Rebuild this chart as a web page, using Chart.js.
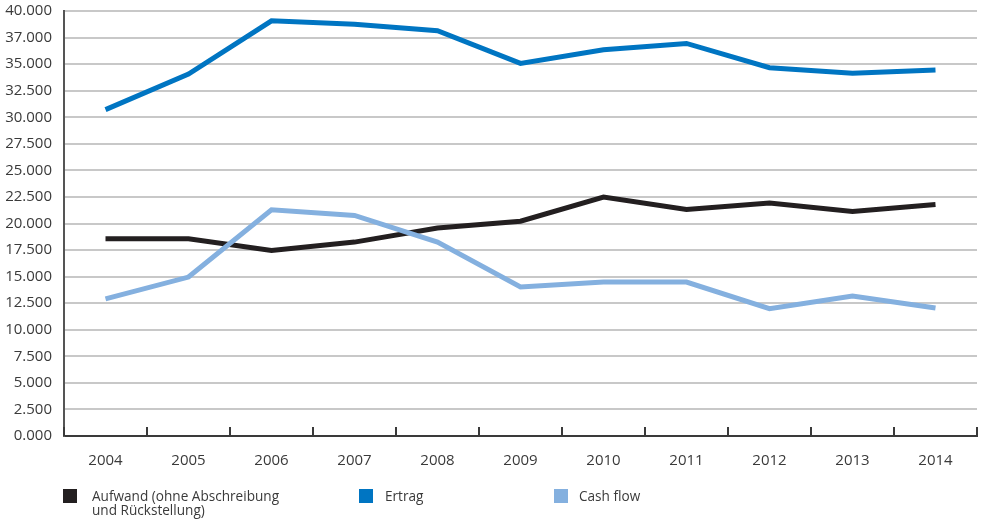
<!DOCTYPE html>
<html>
<head>
<meta charset="utf-8">
<script src="https://cdn.jsdelivr.net/npm/chart.js@4.4.1/dist/chart.umd.min.js"></script>
<style>
    html, body { margin: 0; padding: 0; background: #fff; }
    #wrap { position: relative; width: 982px; height: 525px; }
    #legend { position: absolute; left: 0; top: 0; width: 982px; height: 525px; pointer-events: none;
        font-family: "Open Sans", sans-serif; font-size: 13.6px; color: #3a3a3a; }
    .item { position: absolute; top: 487px; line-height: 14px; }
    .box { position: absolute; left: 0; top: 2px; width: 14px; height: 14px; }
    .txt { position: absolute; left: 29px; top: 2px; white-space: nowrap; }
</style>
</head>
<body>
<div id="wrap">
    <canvas id="chartJahre" width="982" height="525"></canvas>
    <div id="legend">
        <div class="item" style="left:63px"><div class="box" style="background:#231f20"></div><div class="txt">Aufwand (ohne Abschreibung<br>und Rückstellung)</div></div>
        <div class="item" style="left:359px"><div class="box" style="background:#0075c2"></div><div class="txt" style="left:26px">Ertrag</div></div>
        <div class="item" style="left:554px"><div class="box" style="background:#84b0df"></div><div class="txt" style="left:25px">Cash flow</div></div>
    </div>
</div>
<script>
// Daten
const jahre = ['2004', '2005', '2006', '2007', '2008', '2009', '2010', '2011', '2012', '2013', '2014'];
const aufwand = [18570, 18570, 17470, 18250, 19570, 20220, 22480, 21320, 21920, 21130, 21790];
const ertrag = [30720, 34070, 39080, 38760, 38140, 35070, 36350, 36950, 34660, 34130, 34440];
const cashFlow = [12900, 14960, 21290, 20760, 18250, 14020, 14490, 14490, 11990, 13180, 12050];
const yTickLabels = ['0.000', '2.500', '5.000', '7.500', '10.000', '12.500', '15.000', '17.500',
    '20.000', '22.500', '25.000', '27.500', '30.000', '32.500', '35.000', '37.000', '40.000'];

// Striche an der x-Achse zwischen den Jahren, nach oben gerichtet
const tickMarks = {
    id: 'tickMarks',
    afterDraw: function(chart) {
        const x = chart.scales.x;
        const area = chart.chartArea;
        const c = chart.ctx;
        c.save();
        c.strokeStyle = '#3a3a3a';
        c.lineWidth = 2;
        for (let i = 0; i <= jahre.length; i++) {
            const px = Math.round(x.getPixelForValue(i - 0.5));
            c.beginPath();
            c.moveTo(px, area.bottom);
            c.lineTo(px, area.bottom - 9);
            c.stroke();
        }
        c.restore();
    }
};

document.addEventListener('DOMContentLoaded', function() {
    const ctx = document.getElementById('chartJahre');
    new Chart(ctx.getContext('2d'), {
        type: 'line',
        data: {
            labels: jahre,
            datasets: [{
                label: 'Aufwand (ohne Abschreibung und Rückstellung)',
                data: aufwand,
                borderColor: '#231f20',
                borderWidth: 5,
                pointRadius: 0,
                tension: 0,
                order: 1
            }, {
                label: 'Ertrag',
                data: ertrag,
                borderColor: '#0075c2',
                borderWidth: 5,
                pointRadius: 0,
                tension: 0,
                order: 2
            }, {
                label: 'Cash flow',
                data: cashFlow,
                borderColor: '#84b0df',
                borderWidth: 5,
                pointRadius: 0,
                tension: 0,
                order: 0
            }]
        },
        options: {
            responsive: false,
            animation: false,
            layout: {
                padding: { top: 11, right: 5, bottom: 49, left: 0 }
            },
            plugins: {
                legend: { display: false },
                tooltip: { enabled: false }
            },
            scales: {
                x: {
                    offset: true,
                    afterFit: function(scale) {
                        scale.height = 40;
                        scale.paddingLeft = 0;
                        scale.paddingRight = 0;
                    },
                    grid: { display: false, drawTicks: false },
                    border: { display: true, color: '#3a3a3a', width: 2 },
                    ticks: {
                        padding: 16,
                        color: '#3a3a3a',
                        font: { family: 'Open Sans', size: 15 }
                    }
                },
                y: {
                    min: 0,
                    max: 40000,
                    afterFit: function(scale) {
                        scale.width = 64;
                        scale.paddingTop = 0;
                        scale.paddingBottom = 0;
                    },
                    afterBuildTicks: function(scale) {
                        scale.ticks = yTickLabels.map(function(t, i) { return { value: i * 2500 }; });
                    },
                    grid: { color: '#c8c8c8', lineWidth: 2, drawTicks: false },
                    border: { display: true, color: '#555555', width: 2 },
                    ticks: {
                        padding: 12,
                        color: '#3a3a3a',
                        font: { family: 'Open Sans', size: 15 },
                        callback: function(value, index) { return yTickLabels[index]; }
                    }
                }
            }
        },
        plugins: [tickMarks]
    });
});
</script>
</body>
</html>
